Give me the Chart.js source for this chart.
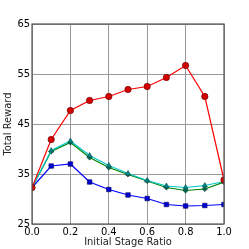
<!DOCTYPE html>
<html>
<head>
<meta charset="utf-8">
<script src="https://cdn.jsdelivr.net/npm/chart.js@4"></script>
<style>
  html, body { margin: 0; padding: 0; background: #fff; }
  #wrap { width: 249px; height: 249px; }
</style>
</head>
<body>
<div id="wrap"><canvas id="grafico" width="249" height="249"></canvas></div>
<script>
const ratios = [0.0, 0.1, 0.2, 0.3, 0.4, 0.5, 0.6, 0.7, 0.8, 0.9, 1.0];
const redValues = [32.3, 41.9, 47.7, 49.7, 50.5, 51.9, 52.5, 54.3, 56.7, 50.5, 33.8];
const cyanValues = [32.3, 39.7, 41.6, 38.7, 36.7, 35.1, 33.7, 32.6, 32.3, 32.7, 33.5];
const greenValues = [32.3, 39.5, 41.3, 38.3, 36.3, 34.9, 33.6, 32.3, 31.7, 32.0, 33.4];
const blueValues = [32.3, 36.6, 37.0, 33.4, 31.9, 30.8, 30.1, 28.9, 28.6, 28.7, 28.9];
const xTicks = [0.0, 0.2, 0.4, 0.6, 0.8, 1.0];
const yTicks = [25, 35, 45, 55, 65];

const fonte = "'DejaVu Sans Condensed', 'Liberation Sans', sans-serif";

function pts(vals) {
    return ratios.map((r, i) => ({ x: r, y: vals[i] }));
}

// marco cinza em volta da área do gráfico
const frame = {
    id: 'frame',
    afterDraw(chart) {
        const a = chart.chartArea, c = chart.ctx;
        c.save();
        c.strokeStyle = '#555';
        c.lineWidth = 1.2;
        c.strokeRect(a.left, a.top, a.right - a.left, a.bottom - a.top);
        c.restore();
    }
};

const ctx = document.getElementById('grafico').getContext('2d');
new Chart(ctx, {
    type: 'line',
    data: {
        datasets: [
            { data: pts(redValues), borderColor: '#ff0000', backgroundColor: '#d40000',
              pointBorderColor: '#600000', pointStyle: 'circle', pointRadius: 3.2 },
            { data: pts(cyanValues), borderColor: '#00c8c8', backgroundColor: '#008b8b',
              pointBorderColor: '#004848', pointStyle: 'triangle', pointRadius: 3 },
            { data: pts(greenValues), borderColor: '#008000', backgroundColor: '#006a50',
              pointBorderColor: '#003020', pointStyle: 'rectRot', pointRadius: 2.6 },
            { data: pts(blueValues), borderColor: '#0000ff', backgroundColor: '#0000d0',
              pointBorderColor: '#000060', pointStyle: 'rect', pointRadius: 3.2 }
        ].map(d => Object.assign({ borderWidth: 1.2, pointBorderWidth: 0.6, tension: 0, fill: false }, d))
    },
    options: {
        responsive: false,
        animation: false,
        layout: { padding: { top: 24, right: 25, left: 2, bottom: 0 } },
        plugins: { legend: { display: false }, tooltip: { enabled: false } },
        scales: {
            x: {
                type: 'linear', min: 0, max: 1,
                afterBuildTicks: s => { s.ticks = xTicks.map(v => ({ value: v })); },
                afterFit: s => { s.height = 25; },
                grid: { color: '#999', borderDash: [1, 2], drawTicks: false },
                border: { display: false },
                ticks: { color: '#000', font: { family: fonte, size: 11 }, padding: 2,
                         maxRotation: 0, callback: v => v.toFixed(1) },
                title: { display: true, text: 'Initial Stage Ratio', color: '#222',
                         font: { family: fonte, size: 11 }, padding: { top: 1, bottom: 0 } }
            },
            y: {
                min: 25, max: 65,
                afterBuildTicks: s => { s.ticks = yTicks.map(v => ({ value: v })); },
                afterFit: s => { s.width = 30; },
                grid: { color: '#999', borderDash: [1, 2], drawTicks: false },
                border: { display: false },
                ticks: { color: '#000', font: { family: fonte, size: 11 }, padding: 2 },
                title: { display: true, text: 'Total Reward', color: '#222',
                         font: { family: fonte, size: 11 }, padding: { top: 0, bottom: 2 } }
            }
        }
    },
    plugins: [frame]
});
</script>
</body>
</html>
